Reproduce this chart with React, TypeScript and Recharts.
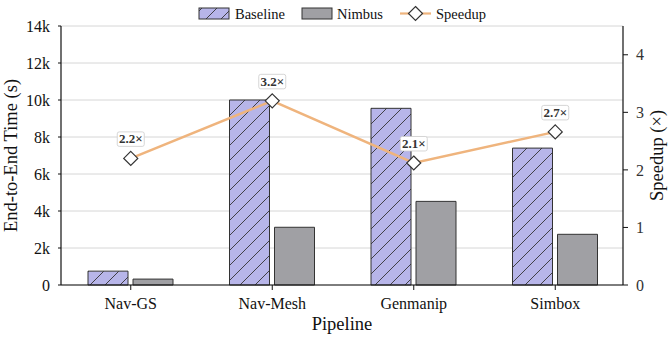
import React from 'react';
import { ComposedChart, Bar, Line, XAxis, YAxis, CartesianGrid, LabelList } from 'recharts';

const categories = ['Nav-GS', 'Nav-Mesh', 'Genmanip', 'Simbox'];
const baselineTimes = [750, 10000, 9550, 7400];
const nimbusTimes = [320, 3120, 4520, 2740];
const speedups = [2.2, 3.2, 2.12, 2.66];
const leftTicks = [0, 2000, 4000, 6000, 8000, 10000, 12000, 14000];
const rightTicks = [0, 1, 2, 3, 4];

const data = categories.map((c, i) => ({
  name: c,
  baseline: baselineTimes[i],
  nimbus: nimbusTimes[i],
  speedup: speedups[i],
}));

const FONT = 'Liberation Serif';
const BASE_FILL = '#b7b5e9';
const NIMBUS_FILL = '#a0a0a4';
const LINE_COLOR = '#efb47d';
const EDGE = '#333333';

const HatchDef = ({ id }: { id: string }) => (
  <defs>
    <pattern id={id} patternUnits="userSpaceOnUse" width={15} height={15}>
      <rect x={0} y={0} width={15} height={15} fill={BASE_FILL} />
      <path d="M-2,2 L2,-2 M0,15 L15,0 M13,17 L17,13" stroke={EDGE} strokeWidth={0.9} />
    </pattern>
  </defs>
);

const Diamond = (props: any) => {
  const { cx, cy } = props;
  if (cx == null || cy == null) return null;
  const r = 7;
  return (
    <path
      d={`M${cx},${cy - r} L${cx + r},${cy} L${cx},${cy + r} L${cx - r},${cy} Z`}
      fill="#ffffff"
      stroke={EDGE}
      strokeWidth={1.2}
    />
  );
};

const SpeedLabel = (props: any) => {
  const { x, y, value } = props;
  if (x == null || y == null) return null;
  const txt = `${Number(value).toFixed(1)}\u00d7`;
  return (
    <g>
      <rect x={x - 13.5} y={y - 26.5} width={27} height={14.5} rx={2} fill="#ffffff" stroke="#cccccc" strokeWidth={0.8} />
      <text x={x} y={y - 15.3} textAnchor="middle" fontFamily={FONT} fontSize={13} fontWeight="bold" fill="#333">
        {txt}
      </text>
    </g>
  );
};

const LegendSvg = () => (
  <svg width={672} height={26} style={{ position: 'absolute', left: 0, top: 0, display: 'block' }}>
    <HatchDef id="hatchLegend" />
    <rect x={199} y={8} width={30} height={11} fill="url(#hatchLegend)" stroke={EDGE} strokeWidth={1} />
    <text x={235} y={19} fontFamily={FONT} fontSize={14.5} fill="#111">Baseline</text>
    <rect x={302} y={8} width={30} height={11} fill={NIMBUS_FILL} stroke={EDGE} strokeWidth={1} />
    <text x={337} y={19} fontFamily={FONT} fontSize={14.5} fill="#111">Nimbus</text>
    <line x1={400} y1={13.5} x2={431} y2={13.5} stroke={LINE_COLOR} strokeWidth={2.2} />
    <path d="M415.5,6.5 L422.5,13.5 L415.5,20.5 L408.5,13.5 Z" fill="#fff" stroke={EDGE} strokeWidth={1.2} />
    <text x={436} y={19} fontFamily={FONT} fontSize={14.5} fill="#111">Speedup</text>
  </svg>
);

const XLabel = (props: any) => {
  const vb = props.viewBox || {};
  const cx = vb.x + vb.width / 2;
  return (
    <text x={cx} y={330} textAnchor="middle" fontFamily={FONT} fontSize={18.5} fill="#111">Pipeline</text>
  );
};

const LeftLabel = () => (
  <text x={16.5} y={155.5} transform="rotate(-90, 16.5, 155.5)" textAnchor="middle" fontFamily={FONT} fontSize={18.5} fill="#111">
    End-to-End Time (s)
  </text>
);

const RightLabel = () => (
  <text x={663} y={155.5} transform="rotate(-90, 663, 155.5)" textAnchor="middle" fontFamily={FONT} fontSize={18.5} fill="#111">
    Speedup (×)
  </text>
);

const tickStyle = { fontSize: 16, fill: '#111', fontFamily: FONT };

export default function App() {
  return (
    <div style={{ position: 'absolute', left: 0, top: 0, width: 672, height: 342, background: '#fff' }}>
      <ComposedChart
        width={672}
        height={342}
        data={data}
        margin={{ top: 26, right: 0, bottom: 0, left: 0 }}
        barGap={5}
      >
        <HatchDef id="hatchBar" />
        <CartesianGrid yAxisId="left" horizontal vertical={false} stroke="#d6d6d6" strokeWidth={1} />
        <XAxis
          dataKey="name"
          height={57}
          padding={{ left: -1, right: -3 }}
          tickSize={5}
          tickMargin={8}
          tick={tickStyle}
          axisLine={{ stroke: '#111', strokeWidth: 1.2 }}
          tickLine={{ stroke: '#111' }}
          label={<XLabel />}
        />
        <YAxis
          yAxisId="left"
          width={61}
          domain={[0, 14000]}
          ticks={leftTicks}
          tickFormatter={(v: number) => (v === 0 ? '0' : `${v / 1000}k`)}
          tickSize={3}
          tickMargin={8}
          tick={tickStyle}
          axisLine={{ stroke: '#111', strokeWidth: 1.2 }}
          tickLine={{ stroke: '#111' }}
          label={<LeftLabel />}
        />
        <YAxis
          yAxisId="right"
          orientation="right"
          width={49}
          domain={[0, 4.5]}
          ticks={rightTicks}
          tickSize={5}
          tickMargin={8}
          tick={{ ...tickStyle, fill: '#333' }}
          axisLine={{ stroke: '#111', strokeWidth: 1.2 }}
          tickLine={{ stroke: '#111' }}
          label={<RightLabel />}
        />
        <Bar yAxisId="left" dataKey="baseline" name="Baseline" barSize={40} fill="url(#hatchBar)" stroke={EDGE} strokeWidth={1} isAnimationActive={false} />
        <Bar yAxisId="left" dataKey="nimbus" name="Nimbus" barSize={40} fill={NIMBUS_FILL} stroke={EDGE} strokeWidth={1} isAnimationActive={false} />
        <Line
          yAxisId="right"
          dataKey="speedup"
          name="Speedup"
          type="linear"
          stroke={LINE_COLOR}
          strokeWidth={2.5}
          dot={<Diamond />}
          activeDot={false}
          isAnimationActive={false}
        >
          <LabelList dataKey="speedup" content={<SpeedLabel />} />
        </Line>
      </ComposedChart>
      <LegendSvg />
    </div>
  );
}
